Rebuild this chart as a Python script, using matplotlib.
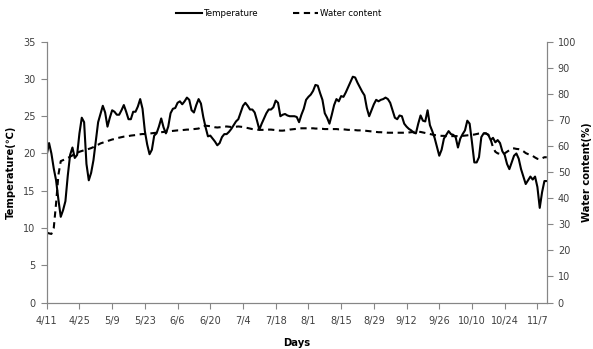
import numpy as np
import matplotlib
matplotlib.use("Agg")
from matplotlib import pyplot as plt

# DATA (one value per day, 4/11 to 11/11)
temperature = [
    19.8, 21.4, 20.0, 18.0, 16.4, 13.8, 11.5, 12.4, 13.6, 17.0,
    19.8, 20.8, 19.4, 19.8, 22.7, 24.8, 24.2, 18.6, 16.4, 17.4,
    19.1, 21.6, 24.2, 25.3, 26.4, 25.5, 23.6, 24.8, 25.8, 25.6,
    25.2, 25.2, 25.8, 26.5, 25.6, 24.6, 24.6, 25.6, 25.6, 26.3,
    27.3, 26.0, 23.0, 21.2, 19.9, 20.5, 22.4, 22.7, 23.6, 24.7,
    23.5, 22.7, 23.6, 25.4, 26.0, 26.1, 26.8, 27.0, 26.6, 27.0,
    27.5, 27.2, 25.8, 25.5, 26.5, 27.3, 26.7, 24.9, 23.5, 22.3,
    22.4, 22.0, 21.6, 21.1, 21.4, 22.2, 22.6, 22.6, 22.9, 23.3,
    23.8, 24.3, 24.6, 25.5, 26.4, 26.8, 26.4, 25.9, 25.9, 25.5,
    24.4, 23.2, 24.0, 24.7, 25.4, 25.9, 25.9, 26.2, 27.1, 26.8,
    25.0, 25.2, 25.3, 25.1, 25.0, 25.0, 25.0, 24.9, 24.2, 25.2,
    26.0, 27.2, 27.6, 27.9, 28.4, 29.2, 29.1, 28.1, 27.2, 25.4,
    24.8, 24.0, 25.2, 26.5, 27.3, 27.0, 27.7, 27.6, 28.2, 28.9,
    29.6, 30.3, 30.2, 29.5, 28.9, 28.3, 27.8, 26.1, 25.0, 25.8,
    26.6, 27.2, 27.0, 27.2, 27.3, 27.5, 27.3, 26.8, 25.8, 24.8,
    24.6, 25.1, 25.0, 24.0, 23.6, 23.3, 23.1, 22.8, 22.7, 24.0,
    25.1, 24.4, 24.3, 25.8, 23.8, 23.0, 22.1, 20.9, 19.7, 20.5,
    22.0, 22.5, 23.0, 22.6, 22.5, 22.2, 20.8, 22.0, 22.6, 23.1,
    24.4, 24.0, 21.5, 18.8, 18.8, 19.5, 22.2, 22.7, 22.7, 22.5,
    21.8, 22.1, 21.5, 21.8, 21.4, 20.3, 19.8, 18.6, 17.9, 18.8,
    19.7, 20.0, 19.3, 17.9, 16.9, 15.9, 16.4, 16.9, 16.5, 16.9,
    15.5, 12.7, 14.8, 16.3, 16.3,
]

water_content = [
    26.8, 26.5, 26.3, 28.5, 38.0, 49.0, 54.2, 54.6, 55.0, 55.4,
    55.9, 56.4, 57.0, 57.4, 57.8, 58.1, 58.4, 58.6, 58.9, 59.2,
    59.6, 60.1, 60.5, 61.0, 61.3, 61.6, 61.9, 62.2, 62.5, 62.7,
    63.0, 63.2, 63.4, 63.6, 63.7, 63.8, 64.0, 64.1, 64.2, 64.4,
    64.5, 64.6, 64.6, 64.7, 64.8, 64.9, 65.0, 65.1, 65.2, 65.3,
    65.4, 65.5, 65.6, 65.7, 65.8, 65.9, 66.0, 66.0, 66.1, 66.2,
    66.3, 66.3, 66.4, 66.5, 66.6, 66.7, 67.2, 67.6, 67.8, 67.7,
    67.6, 67.4, 67.2, 67.1, 67.2, 67.3, 67.4, 67.5, 67.4, 67.3,
    67.3, 67.4, 67.5, 67.4, 67.3, 67.1, 66.9, 66.7, 66.5, 66.4,
    66.3, 66.2, 66.2, 66.2, 66.3, 66.3, 66.3, 66.2, 66.1, 66.0,
    65.9, 65.9, 66.0, 66.1, 66.3, 66.4, 66.5, 66.6, 66.7, 66.8,
    66.8, 66.8, 66.8, 66.8, 66.8, 66.7, 66.7, 66.6, 66.6, 66.5,
    66.5, 66.5, 66.5, 66.5, 66.5, 66.4, 66.4, 66.4, 66.3, 66.2,
    66.2, 66.1, 66.1, 66.0, 66.0, 65.9, 65.9, 65.8, 65.7, 65.6,
    65.5, 65.4, 65.3, 65.3, 65.2, 65.2, 65.1, 65.1, 65.1, 65.1,
    65.1, 65.1, 65.1, 65.1, 65.1, 65.2, 65.3, 65.4, 65.5, 65.5,
    65.4, 65.2, 65.0, 64.8, 64.6, 64.4, 64.2, 64.1, 64.0, 63.9,
    63.9, 63.8, 63.8, 63.8, 63.8, 63.8, 63.8, 63.8, 63.9, 64.0,
    64.1, 64.2, 64.3, 64.4, 64.6, 64.8, 64.9, 64.9, 64.8, 64.3,
    62.5, 59.5, 57.8, 57.2, 57.0, 56.9, 57.2, 57.8, 58.4, 59.0,
    59.1, 58.9, 58.8, 58.6, 58.0, 57.3, 56.9, 56.6, 56.2, 55.6,
    55.1, 54.9, 55.3, 55.7, 55.7,
]

tick_labels = ['4/11', '4/25', '5/9', '5/23', '6/6', '6/20', '7/4', '7/18',
               '8/1', '8/15', '8/29', '9/12', '9/26', '10/10', '10/24', '11/7']

days = np.arange(len(temperature))
axis_gray = '#868686'

plt.rcParams['font.family'] = ['DejaVu Sans']
plt.rcParams['font.size'] = 7

fig = plt.figure(figsize=(5.93, 3.49), dpi=100)
ax = fig.add_axes([0.0788, 0.1332, 0.8432, 0.7473])
ax2 = ax.twinx()

# TEMPERATURE (LEFT AXIS)
l1, = ax.plot(days, temperature, color='black', linewidth=1.5, label='Temperature')
ax.set_ylim(0, 35)
ax.set_yticks(np.arange(0, 36, 5))
ax.set_xlim(0, len(days) - 1)
ax.set_xticks(np.arange(0, len(tick_labels) * 14, 14))
ax.set_xticklabels(tick_labels)
ax.set_ylabel('Temperature(℃)', weight='bold', fontsize=7.2, labelpad=5)
ax.set_xlabel('Days', weight='bold', fontsize=7.2, labelpad=8)

# WATER CONTENT (RIGHT AXIS)
l2, = ax2.plot(days, water_content, color='black', linewidth=1.5,
               linestyle=(0, (3, 2.2)), label='Water content')
ax2.set_ylim(0, 100)
ax2.set_yticks(np.arange(0, 101, 10))
ax2.set_ylabel('Water content(%)', weight='bold', fontsize=7.2, labelpad=4)

# AXIS STYLE
for a in (ax, ax2):
    a.spines['top'].set_visible(False)
    for s in ('left', 'right', 'bottom'):
        a.spines[s].set_color(axis_gray)
        a.spines[s].set_linewidth(0.8)
    a.tick_params(colors=axis_gray, labelcolor='#404040', length=4, width=0.8)
ax.tick_params(axis='x', pad=6)
ax.tick_params(axis='y', pad=4)
ax2.tick_params(axis='y', pad=4)

# LEGEND
fig.legend(handles=[l1, l2], loc='upper center', bbox_to_anchor=(0.47, 0.995),
           ncol=2, frameon=False, handlelength=3.0, handletextpad=0.2,
           columnspacing=4.0, fontsize=6.2)

plt.savefig('out.png', dpi=100)
